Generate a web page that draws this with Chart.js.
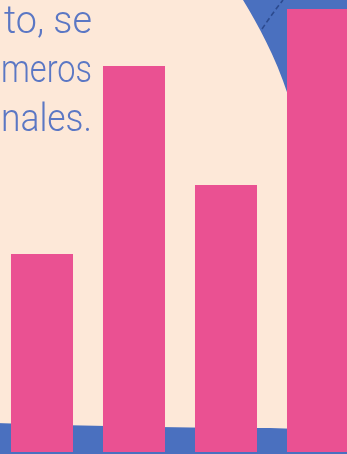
<!DOCTYPE html>
<html>
<head>
<meta charset="utf-8">
<script src="https://cdn.jsdelivr.net/npm/chart.js@4/dist/chart.umd.min.js"></script>
<style>
  html, body { margin: 0; padding: 0; width: 347px; height: 454px; overflow: hidden; background: #4a70bf; }
  #wrap { position: absolute; left: -4px; top: 0; width: 368px; height: 454px; }
</style>
</head>
<body>
<div id="wrap"><canvas id="c"></canvas></div>
<script>
const categories = ["A", "B", "C", "D"];
const values = [198, 386, 267, 443];
const textLines = ["to, se", "meros", "nales."];

const COLORS = { blue: "#4a70bf", peach: "#fde8d8", pink: "#ea5192", text: "#5b77c4", dash: "#2c4a8e" };

const backdrop = {
  id: "backdrop",
  beforeDraw(chart) {
    const ctx = chart.ctx;
    const ox = 4; // canvas is shifted 4px left of the page
    ctx.save();
    ctx.fillStyle = COLORS.blue;
    ctx.fillRect(0, 0, chart.width, chart.height);
    // peach blob
    ctx.fillStyle = COLORS.peach;
    ctx.beginPath();
    ctx.moveTo(0, 0);
    ctx.lineTo(243 + ox, 0);
    ctx.bezierCurveTo(258 + ox, 25, 275 + ox, 55, 288 + ox, 95);
    ctx.lineTo(300 + ox, 200);
    ctx.lineTo(300 + ox, 429);
    ctx.lineTo(270 + ox, 428);
    ctx.quadraticCurveTo(150 + ox, 428, 0, 423);
    ctx.closePath();
    ctx.fill();
    // dashed line in top right
    ctx.strokeStyle = COLORS.dash;
    ctx.lineWidth = 1.6;
    ctx.setLineDash([5, 3]);
    ctx.beginPath();
    ctx.moveTo(262 + ox, 29);
    ctx.quadraticCurveTo(272 + ox, 14, 283 + ox, 0);
    ctx.stroke();
    ctx.setLineDash([]);
    // text
    ctx.fillStyle = COLORS.text;
    ctx.font = "300 38px Roboto";
    ctx.textAlign = "right";
    ctx.textBaseline = "alphabetic";
    const base = [33, 82, 131];
    const widths = [88, 91, 91];
    textLines.forEach((t, i) => ctx.fillText(t, 92 + ox, base[i], widths[i]));
    ctx.restore();
  }
};

new Chart(document.getElementById("c"), {
  type: "bar",
  data: {
    labels: categories,
    datasets: [{
      data: values,
      backgroundColor: COLORS.pink,
      borderWidth: 0,
      barPercentage: 0.674,
      categoryPercentage: 1
    }]
  },
  options: {
    responsive: true,
    maintainAspectRatio: false,
    animation: false,
    layout: { padding: { top: 0, bottom: 2, left: 0, right: 0 } },
    plugins: { legend: { display: false }, tooltip: { enabled: false } },
    scales: {
      x: { display: false },
      y: { display: false, min: 0, max: 452 }
    }
  },
  plugins: [backdrop]
});
</script>
</body>
</html>
